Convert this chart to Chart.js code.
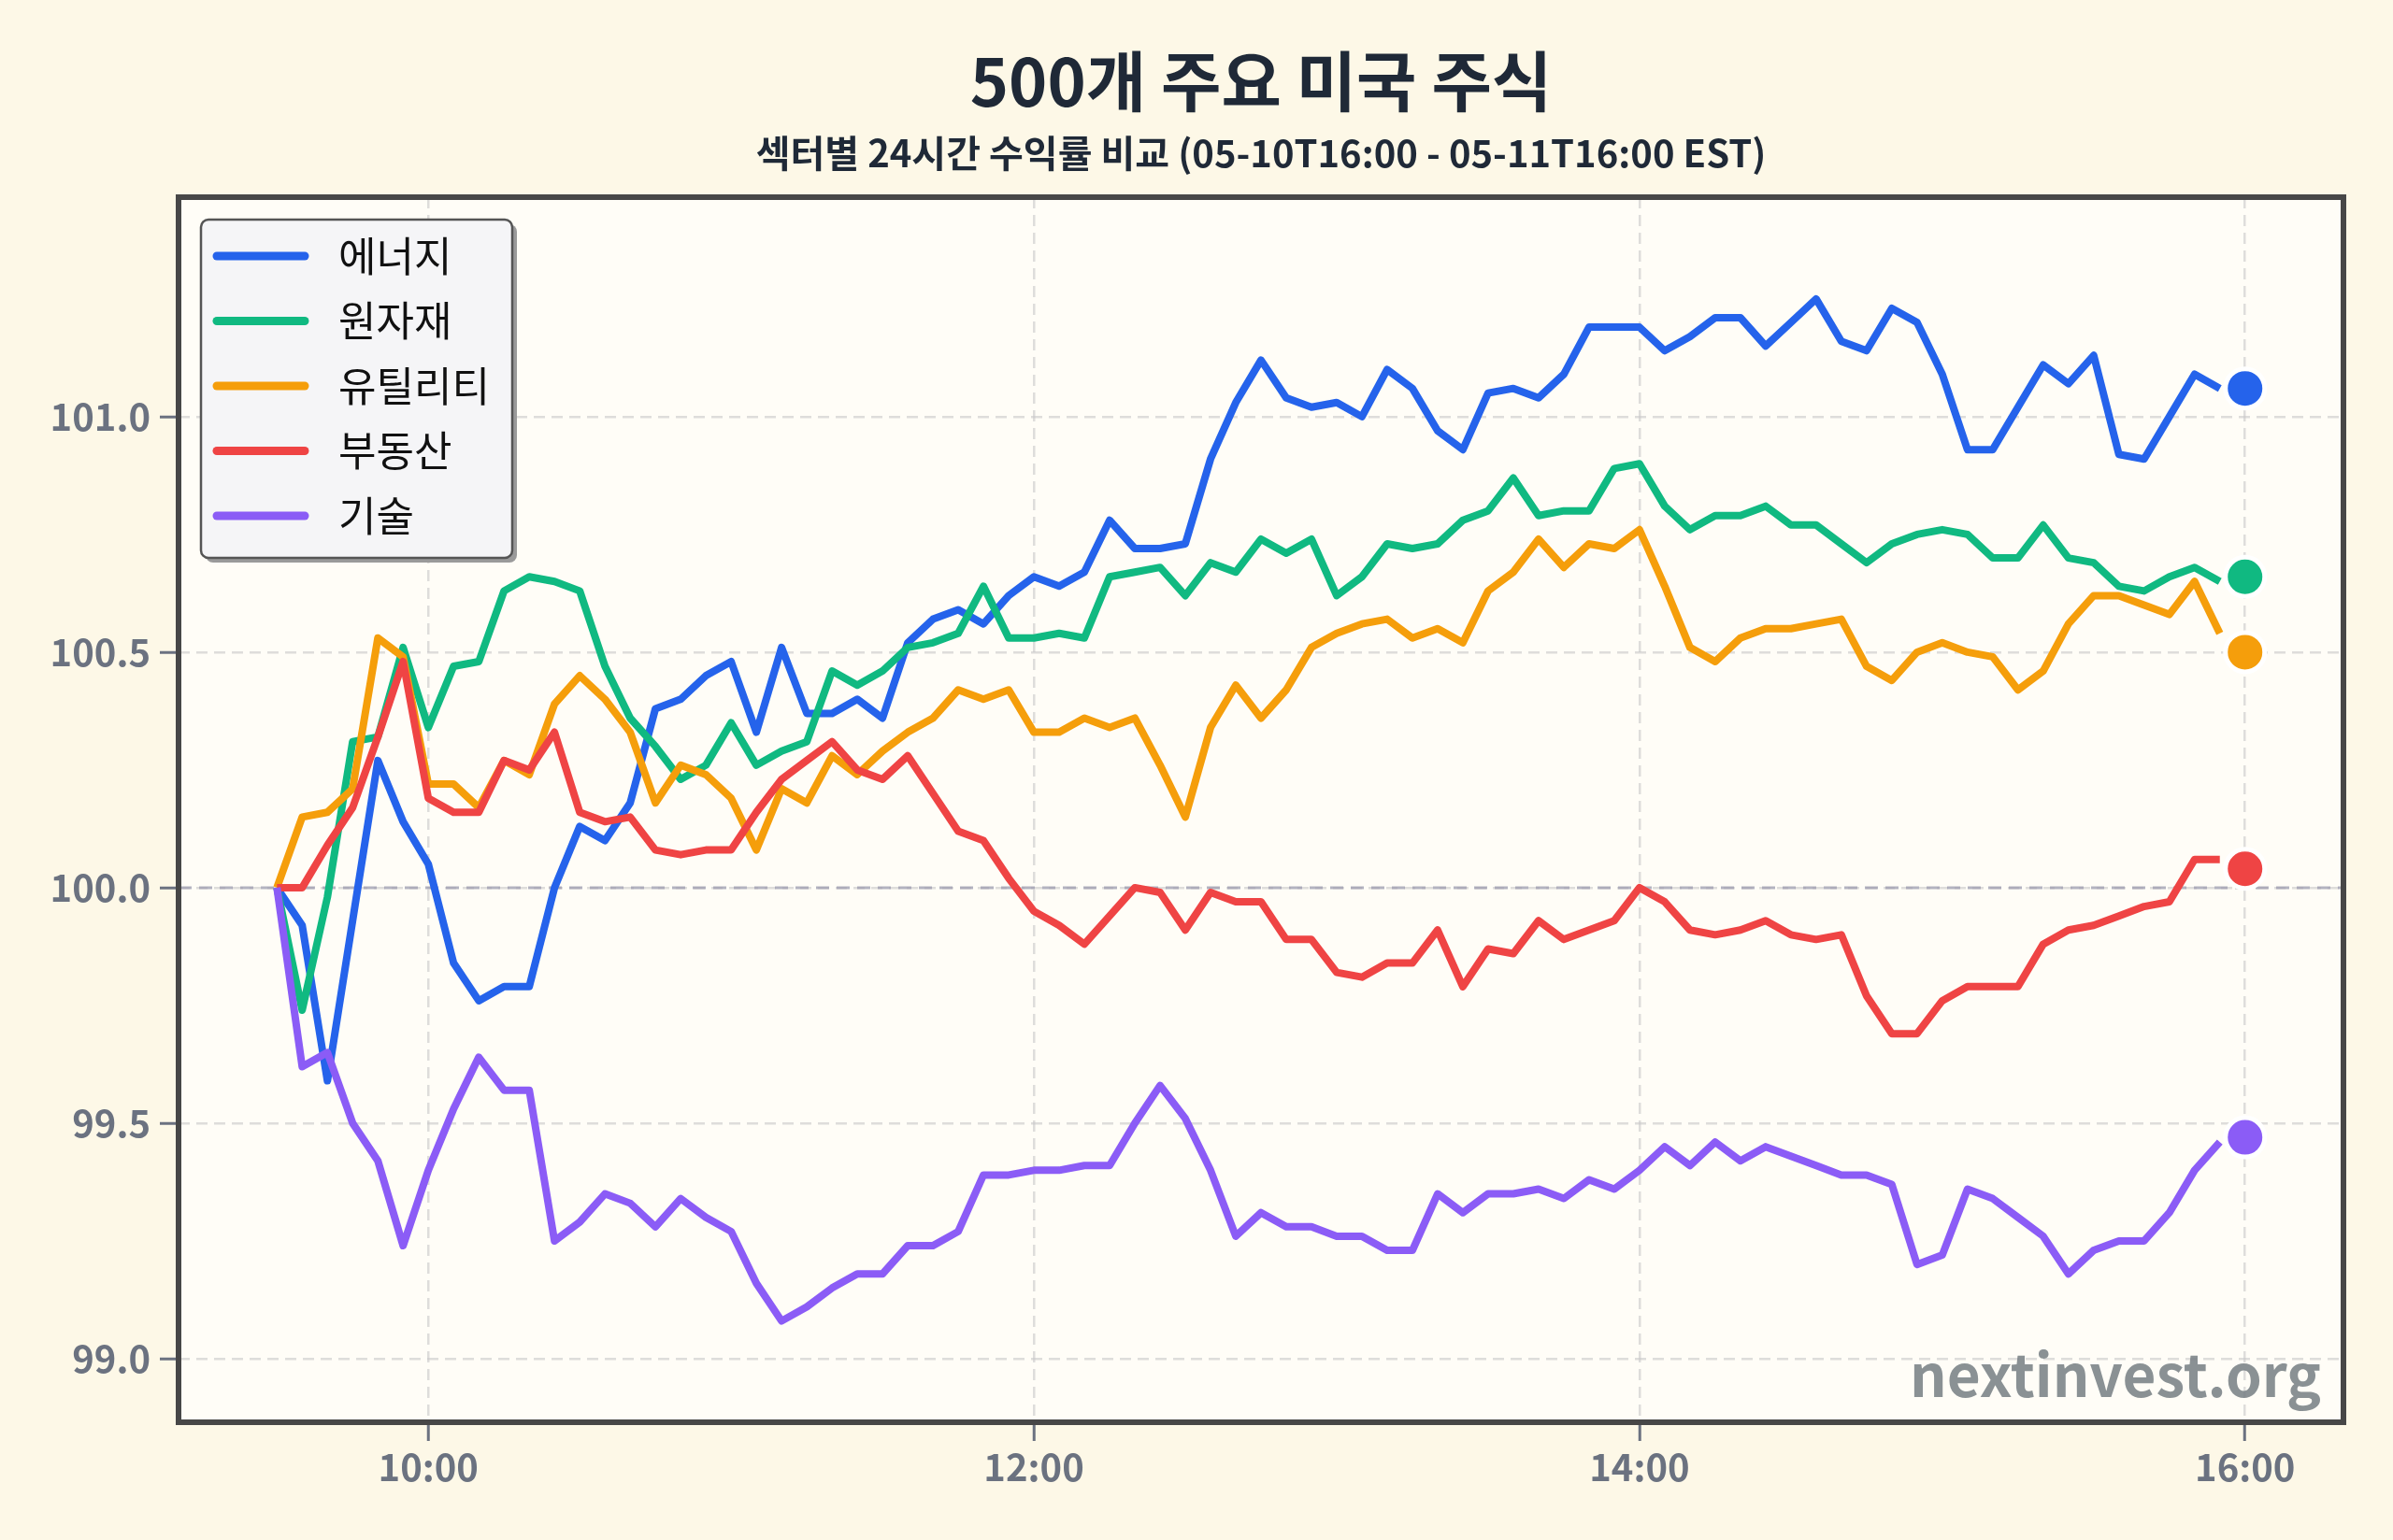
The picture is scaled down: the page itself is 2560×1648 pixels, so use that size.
<!DOCTYPE html>
<html>
<head>
<meta charset="utf-8">
<script src="https://cdn.jsdelivr.net/npm/chart.js@4/dist/chart.umd.min.js"></script>
<style>
  html, body { margin: 0; padding: 0; background: #fdf8e7; }
  #wrap { width: 2560px; height: 1648px; }
</style>
</head>
<body>
<div id="wrap"><canvas id="c" width="2560" height="1648"></canvas></div>
<script>
// ---------------- DATA ----------------
const times = [
  '09:30','09:35','09:40','09:45','09:50','09:55',
  '10:00','10:05','10:10','10:15','10:20','10:25','10:30','10:35','10:40','10:45','10:50','10:55',
  '11:00','11:05','11:10','11:15','11:20','11:25','11:30','11:35','11:40','11:45','11:50','11:55',
  '12:00','12:05','12:10','12:15','12:20','12:25','12:30','12:35','12:40','12:45','12:50','12:55',
  '13:00','13:05','13:10','13:15','13:20','13:25','13:30','13:35','13:40','13:45','13:50','13:55',
  '14:00','14:05','14:10','14:15','14:20','14:25','14:30','14:35','14:40','14:45','14:50','14:55',
  '15:00','15:05','15:10','15:15','15:20','15:25','15:30','15:35','15:40','15:45','15:50','15:55'
];

const seriesNames = ['에너지', '원자재', '유틸리티', '부동산', '기술'];

const energy = [
  100.00, 99.92, 99.59, 99.93, 100.27, 100.14,
  100.05, 99.84, 99.76, 99.79, 99.79, 100.00, 100.13, 100.10, 100.18, 100.38, 100.40, 100.45,
  100.48, 100.33, 100.51, 100.37, 100.37, 100.40, 100.36, 100.52, 100.57, 100.59, 100.56, 100.62,
  100.66, 100.64, 100.67, 100.78, 100.72, 100.72, 100.73, 100.91, 101.03, 101.12, 101.04, 101.02,
  101.03, 101.00, 101.10, 101.06, 100.97, 100.93, 101.05, 101.06, 101.04, 101.09, 101.19, 101.19,
  101.19, 101.14, 101.17, 101.21, 101.21, 101.15, 101.20, 101.25, 101.16, 101.14, 101.23, 101.20,
  101.09, 100.93, 100.93, 101.02, 101.11, 101.07, 101.13, 100.92, 100.91, 101.00, 101.09, 101.06
];

const materials = [
  100.00, 99.74, 99.98, 100.31, 100.32, 100.51,
  100.34, 100.47, 100.48, 100.63, 100.66, 100.65, 100.63, 100.47, 100.36, 100.30, 100.23, 100.26,
  100.35, 100.26, 100.29, 100.31, 100.46, 100.43, 100.46, 100.51, 100.52, 100.54, 100.64, 100.53,
  100.53, 100.54, 100.53, 100.66, 100.67, 100.68, 100.62, 100.69, 100.67, 100.74, 100.71, 100.74,
  100.62, 100.66, 100.73, 100.72, 100.73, 100.78, 100.80, 100.87, 100.79, 100.80, 100.80, 100.89,
  100.90, 100.81, 100.76, 100.79, 100.79, 100.81, 100.77, 100.77, 100.73, 100.69, 100.73, 100.75,
  100.76, 100.75, 100.70, 100.70, 100.77, 100.70, 100.69, 100.64, 100.63, 100.66, 100.68, 100.65
];

const utilities = [
  100.00, 100.15, 100.16, 100.21, 100.53, 100.49,
  100.22, 100.22, 100.17, 100.27, 100.24, 100.39, 100.45, 100.40, 100.33, 100.18, 100.26, 100.24,
  100.19, 100.08, 100.21, 100.18, 100.28, 100.24, 100.29, 100.33, 100.36, 100.42, 100.40, 100.42,
  100.33, 100.33, 100.36, 100.34, 100.36, 100.26, 100.15, 100.34, 100.43, 100.36, 100.42, 100.51,
  100.54, 100.56, 100.57, 100.53, 100.55, 100.52, 100.63, 100.67, 100.74, 100.68, 100.73, 100.72,
  100.76, 100.64, 100.51, 100.48, 100.53, 100.55, 100.55, 100.56, 100.57, 100.47, 100.44, 100.50,
  100.52, 100.50, 100.49, 100.42, 100.46, 100.56, 100.62, 100.62, 100.60, 100.58, 100.65, 100.54
];

const realEstate = [
  100.00, 100.00, 100.09, 100.17, 100.32, 100.48,
  100.19, 100.16, 100.16, 100.27, 100.25, 100.33, 100.16, 100.14, 100.15, 100.08, 100.07, 100.08,
  100.08, 100.16, 100.23, 100.27, 100.31, 100.25, 100.23, 100.28, 100.20, 100.12, 100.10, 100.02,
  99.95, 99.92, 99.88, 99.94, 100.00, 99.99, 99.91, 99.99, 99.97, 99.97, 99.89, 99.89,
  99.82, 99.81, 99.84, 99.84, 99.91, 99.79, 99.87, 99.86, 99.93, 99.89, 99.91, 99.93,
  100.00, 99.97, 99.91, 99.90, 99.91, 99.93, 99.90, 99.89, 99.90, 99.77, 99.69, 99.69,
  99.76, 99.79, 99.79, 99.79, 99.88, 99.91, 99.92, 99.94, 99.96, 99.97, 100.06, 100.06
];

const technology = [
  100.00, 99.62, 99.65, 99.50, 99.42, 99.24,
  99.40, 99.53, 99.64, 99.57, 99.57, 99.25, 99.29, 99.35, 99.33, 99.28, 99.34, 99.30,
  99.27, 99.16, 99.08, 99.11, 99.15, 99.18, 99.18, 99.24, 99.24, 99.27, 99.39, 99.39,
  99.40, 99.40, 99.41, 99.41, 99.50, 99.58, 99.51, 99.40, 99.26, 99.31, 99.28, 99.28,
  99.26, 99.26, 99.23, 99.23, 99.35, 99.31, 99.35, 99.35, 99.36, 99.34, 99.38, 99.36,
  99.40, 99.45, 99.41, 99.46, 99.42, 99.45, 99.43, 99.41, 99.39, 99.39, 99.37, 99.20,
  99.22, 99.36, 99.34, 99.30, 99.26, 99.18, 99.23, 99.25, 99.25, 99.31, 99.40, 99.46
];

const closeTime = '16:00';
const closeValues = [101.06, 100.66, 100.50, 100.04, 99.47];

const xTickLabels = ['10:00', '12:00', '14:00', '16:00'];
const yTickValues = [99.0, 99.5, 100.0, 100.5, 101.0];
const baseValue = 100.0;

const titleText = '500개 주요 미국 주식';
const subtitleText = '섹터별 24시간 수익률 비교 (05-10T16:00 - 05-11T16:00 EST)';
const watermarkText = 'nextinvest.org';

// ---------------- STYLE ----------------
const seriesValues = [energy, materials, utilities, realEstate, technology];
const colors = ['#2563eb', '#10b981', '#f59e0b', '#ef4444', '#8b5cf6'];
const FONT = "'Noto Sans CJK KR', 'Noto Sans', sans-serif";

function toMin(t) { const p = t.split(':').map(Number); return p[0] * 60 + p[1]; }
function fmtTime(v) { const h = Math.floor(v / 60), m = Math.round(v - h * 60); return String(h).padStart(2, '0') + ':' + String(m).padStart(2, '0'); }

const xMin = toMin('09:30') - 19.5;
const xMax = toMin(closeTime) + 19.5;

const datasets = seriesNames.map((name, i) => ({
  label: name,
  data: times.map((t, j) => ({ x: toMin(t), y: seriesValues[i][j] })),
  borderColor: colors[i],
  backgroundColor: colors[i],
  borderWidth: 8,
  pointRadius: 0,
  tension: 0,
  fill: false,
  borderJoinStyle: 'round',
  borderCapStyle: 'butt',
  order: 10 - i
}));
datasets.push({
  label: '_close',
  data: closeValues.map(v => ({ x: toMin(closeTime), y: v })),
  showLine: false,
  pointRadius: 21,
  pointHoverRadius: 21,
  pointBackgroundColor: colors,
  pointBorderColor: '#ffffff',
  pointBorderWidth: 5,
  order: 0
});

const deco = {
  id: 'deco',
  beforeDraw(chart) {
    const { ctx, chartArea: a } = chart;
    ctx.save();
    ctx.fillStyle = '#fdf8e7';
    ctx.fillRect(0, 0, chart.width, chart.height);
    ctx.fillStyle = '#fffdf7';
    ctx.fillRect(a.left, a.top, a.right - a.left, a.bottom - a.top);
    ctx.restore();
  },
  beforeDatasetsDraw(chart) {
    const { ctx, chartArea: a } = chart;
    const y = chart.scales.y.getPixelForValue(baseValue);
    ctx.save();
    ctx.strokeStyle = 'rgba(160,160,178,0.8)';
    ctx.lineWidth = 3;
    ctx.setLineDash([14, 8]);
    ctx.beginPath();
    ctx.moveTo(a.left, y);
    ctx.lineTo(a.right, y);
    ctx.stroke();
    ctx.restore();
  },
  afterDatasetsDraw(chart) {
    const { ctx, chartArea: a } = chart;
    ctx.save();
    // frame
    ctx.strokeStyle = '#474747';
    ctx.lineWidth = 6;
    ctx.setLineDash([]);
    ctx.strokeRect(a.left, a.top, a.right - a.left, a.bottom - a.top);

    // watermark
    ctx.font = 'bold 62px ' + FONT;
    ctx.fillStyle = 'rgba(118,126,131,0.85)';
    ctx.textAlign = 'right';
    ctx.textBaseline = 'alphabetic';
    ctx.fillText(watermarkText, a.right - 24, a.bottom - 27);

    // legend
    const x0 = a.left + 24, y0 = a.top + 24, w = 333, h = 362, r = 8;
    ctx.fillStyle = '#9a9a9a';
    ctx.beginPath(); ctx.roundRect(x0 + 5, y0 + 5, w, h, r); ctx.fill();
    ctx.fillStyle = '#f5f5f7';
    ctx.beginPath(); ctx.roundRect(x0, y0, w, h, r); ctx.fill();
    ctx.strokeStyle = '#555555';
    ctx.lineWidth = 2.5;
    ctx.stroke();
    ctx.font = '44px ' + FONT;
    ctx.textAlign = 'left';
    ctx.textBaseline = 'middle';
    seriesNames.forEach((name, i) => {
      const yy = y0 + 39 + i * 69.5;
      ctx.strokeStyle = colors[i];
      ctx.lineWidth = 9;
      ctx.lineCap = 'round';
      ctx.beginPath(); ctx.moveTo(x0 + 17, yy); ctx.lineTo(x0 + 111, yy); ctx.stroke();
      ctx.fillStyle = '#111111';
      ctx.fillText(name, x0 + 147, yy);
    });
    ctx.restore();
  }
};

Chart.defaults.font.family = FONT;

new Chart(document.getElementById('c'), {
  type: 'line',
  data: { datasets },
  options: {
    responsive: false,
    devicePixelRatio: 1,
    animation: false,
    events: [],
    layout: { padding: { left: 0, right: 53, top: 0, bottom: 0 } },
    plugins: {
      legend: { display: false },
      tooltip: { enabled: false },
      title: {
        display: true, text: titleText, fullSize: false,
        color: '#1f2937',
        font: { size: 70, weight: 'bold', family: FONT, lineHeight: 1.2 },
        padding: { top: 45.5, bottom: 10.5 }
      },
      subtitle: {
        display: true, text: subtitleText, fullSize: false,
        color: '#1f2937',
        font: { size: 40, weight: 'bold', family: FONT, lineHeight: 1.2 },
        padding: { top: 0, bottom: 23 }
      }
    },
    scales: {
      x: {
        type: 'linear',
        min: xMin, max: xMax,
        afterBuildTicks: s => { s.ticks = xTickLabels.map(t => ({ value: toMin(t) })); },
        afterFit: s => { s.height = 126; },
        ticks: {
          callback: v => fmtTime(v),
          color: '#6b7280',
          font: { size: 40, weight: 'bold', family: FONT },
          padding: 4, maxRotation: 0, autoSkip: false
        },
        grid: {
          color: 'rgba(200,200,200,0.6)', lineWidth: 2.5,
          tickLength: 20, tickColor: '#6b7280', tickWidth: 3
        },
        border: { display: false, dash: [12, 7] }
      },
      y: {
        type: 'linear',
        min: 98.865, max: 101.466,
        afterBuildTicks: s => { s.ticks = yTickValues.map(v => ({ value: v })); },
        afterFit: s => { s.width = 191; },
        ticks: {
          callback: v => Number(v).toFixed(1),
          color: '#6b7280',
          font: { size: 40, weight: 'bold', family: FONT },
          padding: 10
        },
        grid: {
          color: 'rgba(200,200,200,0.6)', lineWidth: 2.5,
          tickLength: 20, tickColor: '#6b7280', tickWidth: 3
        },
        border: { display: false, dash: [12, 7] }
      }
    }
  },
  plugins: [deco]
});
</script>
</body>
</html>
